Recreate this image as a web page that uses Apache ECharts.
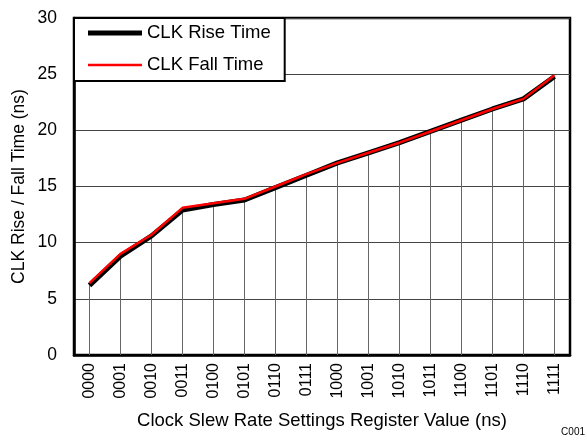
<!DOCTYPE html>
<html>
<head>
<meta charset="utf-8">
<script src="https://cdn.jsdelivr.net/npm/echarts@6/dist/echarts.min.js"></script>
<style>html,body{margin:0;padding:0;background:#fff}#c{width:587px;height:440px}</style>
</head>
<body>
<div id="c"></div>
<script>
const categories = ['0000','0001','0010','0011','0100','0101','0110','0111','1000','1001','1010','1011','1100','1101','1110','1111'];
const riseTime = [6.2, 8.8, 10.6, 12.9, 13.4, 13.8, 14.9, 16.0, 17.1, 18.0, 18.9, 19.9, 20.9, 21.9, 22.8, 24.8];
const fallTime = [6.4, 9.0, 10.7, 13.1, 13.5, 13.9, 15.0, 16.1, 17.1, 18.0, 18.9, 19.9, 20.9, 21.9, 22.8, 24.9];
const yTicks = {min: 0, max: 30, interval: 5};
const FONT = 'Liberation Sans, Arial, sans-serif';

const chart = echarts.init(document.getElementById('c'), null, {renderer: 'canvas'});
chart.setOption({
  animation: false,
  backgroundColor: '#fff',
  textStyle: {fontFamily: FONT, color: '#000'},
  grid: {left: 74, right: 17, top: 18, bottom: 85, containLabel: false, outerBoundsMode: 'none',
         show: true, borderColor: '#000', borderWidth: 2.5, backgroundColor: 'transparent'},
  legend: {
    orient: 'vertical', left: 74, top: 18,
    data: [
      {name: 'CLK Rise Time', icon: 'path://M0,0L54,0L54,5L0,5Z', itemStyle: {color: '#000'}},
      {name: 'CLK Fall Time', icon: 'path://M0,0L54,0L54,2.5L0,2.5Z', itemStyle: {color: '#f00'}}
    ],
    symbolKeepAspect: true,
    padding: [5, 14, 6, 14],
    itemWidth: 54, itemHeight: 14, itemGap: 12,
    backgroundColor: '#fff', borderColor: '#000', borderWidth: 2,
    textStyle: {fontFamily: FONT, fontSize: 18.5, lineHeight: 20, color: '#000'}
  },
  xAxis: {
    type: 'category', data: categories, boundaryGap: true,
    axisLine: {lineStyle: {color: '#000', width: 2.5}},
    axisTick: {show: false},
    axisLabel: {rotate: 90, fontSize: 16, color: '#000', margin: 8, fontFamily: FONT},
    splitLine: {show: false},
    name: 'Clock Slew Rate Settings Register Value (ns)', nameLocation: 'middle', nameGap: 56,
    nameMoveOverlap: false,
    nameTextStyle: {fontSize: 18.5, color: '#000', fontFamily: FONT}
  },
  yAxis: {
    type: 'value', min: yTicks.min, max: yTicks.max, interval: yTicks.interval,
    axisLine: {show: true, lineStyle: {color: '#000', width: 2.5}},
    axisTick: {show: false},
    axisLabel: {fontSize: 17.5, color: '#000', margin: 17, fontFamily: FONT},
    splitLine: {lineStyle: {color: '#444', width: 1}},
    name: 'CLK Rise / Fall Time (ns)', nameLocation: 'middle', nameGap: 46,
    nameMoveOverlap: false,
    nameTextStyle: {fontSize: 17.5, color: '#000', fontFamily: FONT}
  },
  series: [
    {name: 'drop', type: 'bar', data: riseTime, barWidth: 1, itemStyle: {color: '#666'}, z: 1, silent: true},
    {name: 'CLK Rise Time', type: 'line', data: riseTime, symbol: 'none', lineStyle: {color: '#000', width: 5}, itemStyle: {color: '#000'}, z: 3},
    {name: 'CLK Fall Time', type: 'line', data: fallTime, symbol: 'none', lineStyle: {color: '#f00', width: 2.5}, itemStyle: {color: '#f00'}, z: 4}
  ],
  graphic: [{type: 'text', right: 2, bottom: 3, style: {text: 'C001', fontSize: 10, fill: '#000', fontFamily: FONT}}]
});
</script>
</body>
</html>
